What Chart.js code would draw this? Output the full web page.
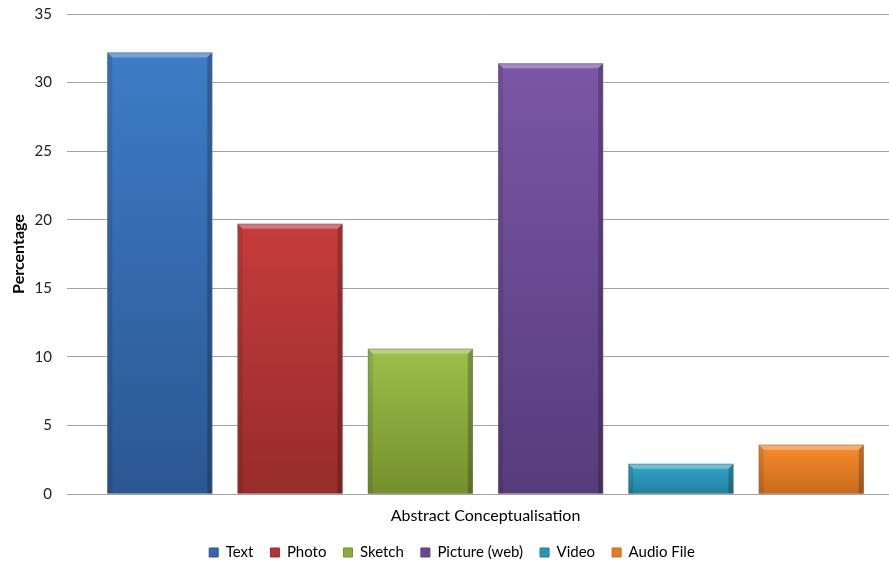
<!DOCTYPE html>
<html>
<head>
<meta charset="utf-8">
<script src="https://cdn.jsdelivr.net/npm/chart.js@4/dist/chart.umd.min.js"></script>
<style>
  html, body { margin: 0; padding: 0; background: #fff; overflow: hidden; }
  #wrap { width: 906px; height: 570px; position: relative; }
</style>
</head>
<body>
<div id="wrap"><canvas id="c"></canvas></div>
<script>
// Survey result: share of responses per media type
const categories = ['Abstract Conceptualisation'];
const seriesNames = ['Text', 'Photo', 'Sketch', 'Picture (web)', 'Video', 'Audio File'];
const seriesValues = [32.2, 19.7, 10.6, 31.4, 2.2, 3.6];
const yTickValues = [0, 5, 10, 15, 20, 25, 30, 35];

// light top / dark bottom shade of each series
const topColors = ['#3d7cc6', '#c53c3c', '#9dbf4a', '#7b56a6', '#34a7ca', '#f78d2e'];
const bottomColors = ['#2b5792', '#982b2b', '#74902d', '#573c7c', '#207f9c', '#c96a1c'];
const midColors = ['#3567aa', '#b03434', '#8aab3d', '#6a4992', '#2b94b4', '#e47c25'];

const FONT = 'Lato, "Open Sans", sans-serif';

function barGradient(i) {
  return (c) => {
    const chart = c.chart;
    const ys = chart.scales && chart.scales.y;
    if (!ys || c.type !== 'data') return midColors[i];
    const top = ys.getPixelForValue(c.raw);
    const bot = ys.getPixelForValue(0);
    const g = chart.ctx.createLinearGradient(0, top, 0, bot);
    g.addColorStop(0, topColors[i]);
    g.addColorStop(1, bottomColors[i]);
    return g;
  };
}

// bevelled edges on each bar, drawn from the bar element geometry
const bevelPlugin = {
  id: 'bevel',
  afterDatasetsDraw(chart) {
    const ctx = chart.ctx;
    chart.data.datasets.forEach((ds, i) => {
      chart.getDatasetMeta(i).data.forEach((bar) => {
        const p = bar.getProps(['x', 'y', 'base', 'width'], true);
        const l = p.x - p.width / 2, r = p.x + p.width / 2, t = p.y, b = p.base;
        const e = Math.min(5, (b - t) / 3);
        ctx.save();
        ctx.fillStyle = 'rgba(255,255,255,0.30)';
        ctx.beginPath();
        ctx.moveTo(l, t); ctx.lineTo(r, t); ctx.lineTo(r - e, t + e); ctx.lineTo(l + e, t + e);
        ctx.closePath(); ctx.fill();
        ctx.fillStyle = 'rgba(0,0,0,0.10)';
        ctx.beginPath();
        ctx.moveTo(l, t); ctx.lineTo(l + e, t + e); ctx.lineTo(l + e, b); ctx.lineTo(l, b);
        ctx.closePath(); ctx.fill();
        ctx.fillStyle = 'rgba(0,0,0,0.22)';
        ctx.beginPath();
        ctx.moveTo(r, t); ctx.lineTo(r, b); ctx.lineTo(r - e, b); ctx.lineTo(r - e, t + e);
        ctx.closePath(); ctx.fill();
        ctx.strokeStyle = 'rgba(110,110,110,0.45)';
        ctx.lineWidth = 1;
        ctx.strokeRect(l + 0.5, t + 0.5, p.width - 1, b - t - 0.5);
        ctx.restore();
      });
    });
  }
};

const datasets = seriesNames.map((name, i) => ({
  label: name,
  data: [seriesValues[i]],
  backgroundColor: barGradient(i),
  borderWidth: 0,
  categoryPercentage: 0.934,
  barPercentage: 0.806
}));

new Chart(document.getElementById('c'), {
  type: 'bar',
  data: { labels: categories, datasets },
  plugins: [bevelPlugin],
  options: {
    responsive: true,
    maintainAspectRatio: false,
    animation: false,
    layout: { padding: { top: 14, right: 2, left: 0, bottom: 0 } },
    plugins: {
      tooltip: { enabled: false },
      legend: {
        position: 'bottom',
        labels: {
          boxWidth: 9,
          boxHeight: 9,
          padding: 17,
          color: '#000',
          font: { family: FONT, size: 15 },
          generateLabels(chart) {
            return chart.data.datasets.map((ds, i) => ({
              text: ds.label,
              fillStyle: midColors[i],
              strokeStyle: bottomColors[i],
              lineWidth: 1,
              hidden: false,
              datasetIndex: i,
              fontColor: '#000'
            }));
          }
        }
      }
    },
    scales: {
      x: {
        grid: { display: false },
        border: { display: false },
        afterFit(scale) { scale.height = 34; },
        ticks: { color: '#000', font: { family: FONT, size: 16 }, padding: 4 }
      },
      y: {
        min: 0,
        max: 35,
        afterBuildTicks(scale) { scale.ticks = yTickValues.map(v => ({ value: v })); },
        afterFit(scale) { scale.width = 67; scale.paddingTop = 0; },
        grid: { color: '#a3a3a3', lineWidth: 1, drawTicks: false },
        border: { display: false },
        ticks: { color: '#222', font: { family: FONT, size: 15 }, padding: 15 },
        title: {
          display: true,
          text: 'Percentage',
          color: '#000',
          font: { family: FONT, size: 16, weight: 'bold' },
          padding: { top: 9, bottom: 0 }
        }
      }
    }
  }
});
</script>
</body>
</html>
